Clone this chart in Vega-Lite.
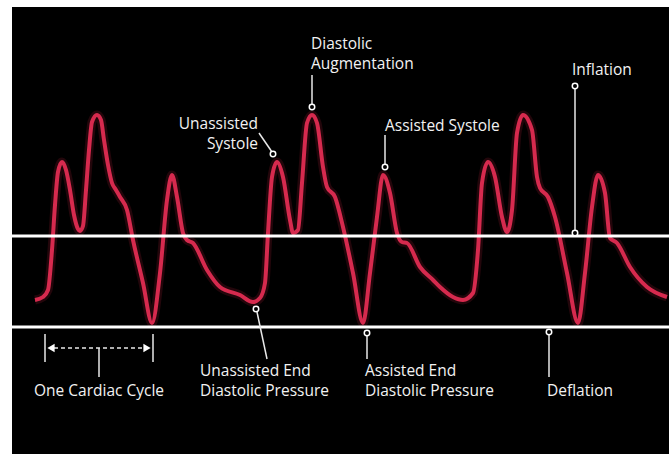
{
  "$schema": "https://vega.github.io/schema/vega-lite/v6.json",
  "width": 671,
  "height": 454,
  "autosize": {"type": "fit", "contains": "padding"},
  "padding": {"left": 12, "top": 7, "right": 2, "bottom": 0},
  "background": "white",
  "config": {"view": {"fill": "black", "stroke": null}},
  "datasets": {
    "wave": [
      {"x": 35, "y": 300}, {"x": 43, "y": 297}, {"x": 48, "y": 290}, {"x": 52, "y": 250}, {"x": 55, "y": 205},
      {"x": 58, "y": 172}, {"x": 62, "y": 162}, {"x": 66, "y": 170}, {"x": 70, "y": 190}, {"x": 74, "y": 215},
      {"x": 78, "y": 229}, {"x": 80, "y": 231}, {"x": 83, "y": 226}, {"x": 86, "y": 190}, {"x": 89, "y": 150},
      {"x": 92, "y": 122}, {"x": 97, "y": 115}, {"x": 101, "y": 120}, {"x": 104, "y": 140}, {"x": 108, "y": 165},
      {"x": 112, "y": 183}, {"x": 116, "y": 190}, {"x": 120, "y": 197}, {"x": 127, "y": 210}, {"x": 133, "y": 240},
      {"x": 143, "y": 283}, {"x": 152, "y": 323}, {"x": 160, "y": 273}, {"x": 167, "y": 200}, {"x": 172, "y": 175},
      {"x": 177, "y": 197}, {"x": 183, "y": 233}, {"x": 187, "y": 240}, {"x": 193, "y": 243}, {"x": 207, "y": 270},
      {"x": 220, "y": 287}, {"x": 240, "y": 295}, {"x": 253, "y": 302}, {"x": 260, "y": 298}, {"x": 265, "y": 283},
      {"x": 268, "y": 233}, {"x": 272, "y": 177}, {"x": 277, "y": 162}, {"x": 283, "y": 177}, {"x": 290, "y": 220},
      {"x": 293, "y": 233}, {"x": 298, "y": 230}, {"x": 302, "y": 183}, {"x": 307, "y": 123}, {"x": 312, "y": 115},
      {"x": 317, "y": 123}, {"x": 323, "y": 167}, {"x": 327, "y": 187}, {"x": 335, "y": 197}, {"x": 343, "y": 227},
      {"x": 353, "y": 273}, {"x": 363, "y": 323}, {"x": 370, "y": 273}, {"x": 377, "y": 217}, {"x": 383, "y": 175},
      {"x": 390, "y": 193}, {"x": 397, "y": 233}, {"x": 402, "y": 242}, {"x": 407, "y": 243}, {"x": 420, "y": 267},
      {"x": 433, "y": 280}, {"x": 440, "y": 287}, {"x": 453, "y": 297}, {"x": 463, "y": 300}, {"x": 473, "y": 293},
      {"x": 478, "y": 250}, {"x": 482, "y": 183}, {"x": 488, "y": 162}, {"x": 495, "y": 177}, {"x": 502, "y": 217},
      {"x": 507, "y": 232}, {"x": 512, "y": 210}, {"x": 517, "y": 133}, {"x": 523, "y": 115}, {"x": 532, "y": 130},
      {"x": 537, "y": 177}, {"x": 540, "y": 188}, {"x": 548, "y": 197}, {"x": 555, "y": 217}, {"x": 567, "y": 273},
      {"x": 578, "y": 323}, {"x": 585, "y": 273}, {"x": 592, "y": 207}, {"x": 598, "y": 175}, {"x": 605, "y": 193},
      {"x": 610, "y": 238}, {"x": 617, "y": 243}, {"x": 630, "y": 267}, {"x": 647, "y": 287}, {"x": 667, "y": 297}
    ],
    "hlines": [{"y": 236}, {"y": 327}],
    "segs": [
      {"x": 312, "y": 75, "x2": 312, "y2": 104},
      {"x": 259, "y": 133, "x2": 272, "y2": 152},
      {"x": 385, "y": 135, "x2": 385, "y2": 164},
      {"x": 575, "y": 89, "x2": 575, "y2": 232},
      {"x": 549, "y": 335, "x2": 549, "y2": 377},
      {"x": 257, "y": 312, "x2": 267, "y2": 359},
      {"x": 367, "y": 336, "x2": 367, "y2": 359},
      {"x": 45, "y": 334, "x2": 45, "y2": 362},
      {"x": 153, "y": 334, "x2": 153, "y2": 362},
      {"x": 99, "y": 348, "x2": 99, "y2": 377}
    ],
    "dashes": [{"x": 54, "y": 348, "x2": 144, "y2": 348}],
    "arrows": [
      {"x": 51, "y": 348, "shape": "triangle-left"},
      {"x": 147, "y": 348, "shape": "triangle-right"}
    ],
    "dots": [
      {"x": 312, "y": 107}, {"x": 273, "y": 154}, {"x": 385, "y": 167}, {"x": 575, "y": 86},
      {"x": 575, "y": 233}, {"x": 549, "y": 332}, {"x": 256, "y": 309}, {"x": 367, "y": 333}
    ],
    "labels": [
      {"x": 311, "y": 44, "text": "Diastolic", "align": "left"},
      {"x": 311, "y": 64, "text": "Augmentation", "align": "left"},
      {"x": 258, "y": 124, "text": "Unassisted", "align": "right"},
      {"x": 258, "y": 144, "text": "Systole", "align": "right"},
      {"x": 385, "y": 126, "text": "Assisted Systole", "align": "left"},
      {"x": 572, "y": 70, "text": "Inflation", "align": "left"},
      {"x": 547, "y": 391, "text": "Deflation", "align": "left"},
      {"x": 200, "y": 371, "text": "Unassisted End", "align": "left"},
      {"x": 200, "y": 391, "text": "Diastolic Pressure", "align": "left"},
      {"x": 365, "y": 371, "text": "Assisted End", "align": "left"},
      {"x": 365, "y": 391, "text": "Diastolic Pressure", "align": "left"},
      {"x": 99, "y": 391, "text": "One Cardiac Cycle", "align": "center"}
    ]
  },
  "encoding": {
    "x": {"field": "x", "type": "quantitative", "scale": {"domain": [12, 669], "nice": false, "zero": false}, "axis": null},
    "y": {"field": "y", "type": "quantitative", "scale": {"domain": [7, 454], "nice": false, "zero": false, "reverse": true}, "axis": null}
  },
  "layer": [
    {
      "data": {"name": "wave"},
      "mark": {"type": "line", "color": "#c0203f", "strokeWidth": 9, "opacity": 0.18, "interpolate": "monotone", "clip": true}
    },
    {
      "data": {"name": "wave"},
      "mark": {"type": "line", "color": "#d62a4e", "strokeWidth": 4, "interpolate": "monotone", "clip": true}
    },
    {
      "data": {"name": "hlines"},
      "mark": {"type": "rule", "color": "white", "strokeWidth": 3, "clip": true},
      "encoding": {"x": null}
    },
    {
      "data": {"name": "segs"},
      "mark": {"type": "rule", "color": "#e8e8e8", "strokeWidth": 1.5},
      "encoding": {"x2": {"field": "x2"}, "y2": {"field": "y2"}}
    },
    {
      "data": {"name": "dashes"},
      "mark": {"type": "rule", "color": "#e8e8e8", "strokeWidth": 1.5, "strokeDash": [4, 3]},
      "encoding": {"x2": {"field": "x2"}, "y2": {"field": "y2"}}
    },
    {
      "data": {"name": "arrows"},
      "mark": {"type": "point", "filled": true, "color": "white", "size": 70, "opacity": 1},
      "encoding": {"shape": {"field": "shape", "type": "nominal", "scale": null}}
    },
    {
      "data": {"name": "dots"},
      "mark": {"type": "point", "shape": "circle", "filled": true, "fill": "black", "stroke": "white", "strokeWidth": 1.5, "size": 30, "opacity": 1}
    },
    {
      "data": {"name": "labels"},
      "transform": [{"filter": "datum.align === 'left'"}],
      "mark": {"type": "text", "align": "left", "baseline": "middle", "color": "#f2f2f2", "font": "Open Sans", "fontSize": 15.5},
      "encoding": {"text": {"field": "text"}}
    },
    {
      "data": {"name": "labels"},
      "transform": [{"filter": "datum.align === 'right'"}],
      "mark": {"type": "text", "align": "right", "baseline": "middle", "color": "#f2f2f2", "font": "Open Sans", "fontSize": 15.5},
      "encoding": {"text": {"field": "text"}}
    },
    {
      "data": {"name": "labels"},
      "transform": [{"filter": "datum.align === 'center'"}],
      "mark": {"type": "text", "align": "center", "baseline": "middle", "color": "#f2f2f2", "font": "Open Sans", "fontSize": 15.5},
      "encoding": {"text": {"field": "text"}}
    }
  ]
}
